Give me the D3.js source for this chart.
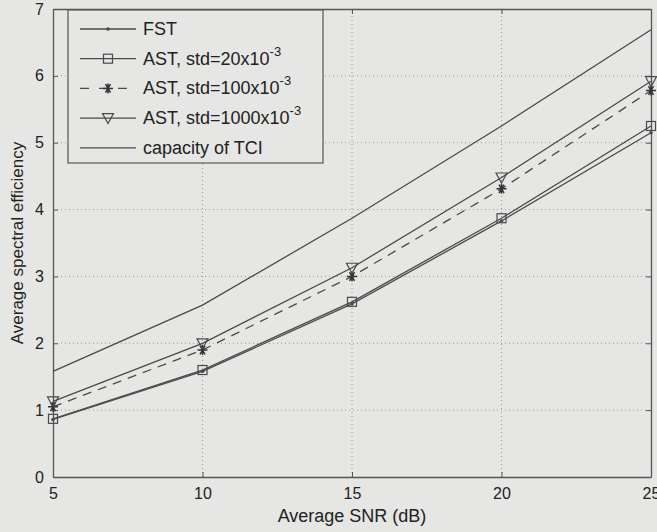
<!DOCTYPE html>
<html lang="en">
  <head>
    <meta charset="utf-8" />
    <title>Average spectral efficiency vs SNR</title>
    <script src="https://d3js.org/d3.v7.min.js"></script>
    <style type="text/css">
      body {
        margin: 0;
        background-color: #e6e6e4;
      }
      text {
        font-family: "Liberation Sans", Arial, sans-serif;
        fill: #222;
      }
    </style>
  </head>
  <body>
    <script type="text/javascript">
      //Data
      var snr = [5, 10, 15, 20, 25];
      var fst = [0.86, 1.58, 2.59, 3.83, 5.15];
      var ast20 = [0.87, 1.6, 2.62, 3.87, 5.25];
      var ast100 = [1.05, 1.9, 3.0, 4.31, 5.78];
      var ast1000 = [1.13, 2.0, 3.13, 4.48, 5.92];
      var capTCI = [1.58, 2.57, 3.87, 5.25, 6.69];
      var xTicks = [5, 10, 15, 20, 25];
      var yTicks = [0, 1, 2, 3, 4, 5, 6, 7];

      var w = 657;
      var h = 532;
      var margin = { top: 9, right: 6, bottom: 55, left: 53 };

      var xScale = d3
        .scaleLinear()
        .domain([5, 25])
        .range([margin.left, w - margin.right]);
      var yScale = d3
        .scaleLinear()
        .domain([0, 7])
        .range([h - margin.bottom, margin.top]);

      var svg = d3
        .select("body")
        .append("svg")
        .attr("width", w)
        .attr("height", h);

      var lineCol = "#4a4a4a";

      //Grid
      svg
        .selectAll("line.gx")
        .data(xTicks.slice(1, -1))
        .enter()
        .append("line")
        .attr("x1", function (d) { return xScale(d); })
        .attr("x2", function (d) { return xScale(d); })
        .attr("y1", yScale(0))
        .attr("y2", yScale(7))
        .attr("stroke", "#9a9a9a")
        .attr("stroke-width", 1)
        .attr("stroke-dasharray", "1,3");
      svg
        .selectAll("line.gy")
        .data(yTicks.slice(1, -1))
        .enter()
        .append("line")
        .attr("y1", function (d) { return yScale(d); })
        .attr("y2", function (d) { return yScale(d); })
        .attr("x1", xScale(5))
        .attr("x2", xScale(25))
        .attr("stroke", "#9a9a9a")
        .attr("stroke-width", 1)
        .attr("stroke-dasharray", "1,3");

      //Axes (ticks inward on all four sides)
      svg
        .append("g")
        .attr("transform", "translate(0," + yScale(0) + ")")
        .call(d3.axisBottom(xScale).tickValues(xTicks).tickFormat(d3.format("d")).tickSizeInner(-5).tickSizeOuter(0).tickPadding(11));
      svg
        .append("g")
        .attr("transform", "translate(" + xScale(5) + ",0)")
        .call(d3.axisLeft(yScale).tickValues(yTicks).tickFormat(d3.format("d")).tickSizeInner(-5).tickSizeOuter(0).tickPadding(9));
      svg
        .append("g")
        .attr("transform", "translate(0," + yScale(7) + ")")
        .call(d3.axisTop(xScale).tickValues(xTicks).tickSizeInner(-5).tickSizeOuter(0).tickFormat(""));
      svg
        .append("g")
        .attr("transform", "translate(" + xScale(25) + ",0)")
        .call(d3.axisRight(yScale).tickValues(yTicks).tickSizeInner(-5).tickSizeOuter(0).tickFormat(""));
      svg.selectAll(".domain").attr("stroke", "#555").attr("stroke-width", 1.3);
      svg.selectAll(".tick line").attr("stroke", "#555");
      svg.selectAll(".tick text").style("font-size", "16px").attr("fill", "#222");

      //Axis labels
      svg
        .append("text")
        .attr("x", (xScale(5) + xScale(25)) / 2)
        .attr("y", 522)
        .attr("text-anchor", "middle")
        .style("font-size", "18px")
        .text("Average SNR (dB)");
      svg
        .append("text")
        .attr("transform", "translate(23," + (yScale(0) + yScale(7)) / 2 + ") rotate(-90)")
        .attr("text-anchor", "middle")
        .style("font-size", "17px")
        .text("Average spectral efficiency");

      //Series
      var series = [
        { name: "FST", vals: fst, dash: null, marker: "dot" },
        { name: "AST, std=20x10", vals: ast20, dash: null, marker: "square" },
        { name: "AST, std=100x10", vals: ast100, dash: "9,7", marker: "star" },
        { name: "AST, std=1000x10", vals: ast1000, dash: null, marker: "tri" },
        { name: "capacity of TCI", vals: capTCI, dash: null, marker: null },
      ];

      var line = d3
        .line()
        .x(function (d, i) { return xScale(snr[i]); })
        .y(function (d) { return yScale(d); });

      function drawMarker(g, type, x, y) {
        if (type === "dot") {
          g.append("circle").attr("cx", x).attr("cy", y).attr("r", 1.8).attr("fill", lineCol);
        } else if (type === "square") {
          g.append("rect")
            .attr("x", x - 4.5).attr("y", y - 4.5)
            .attr("width", 9).attr("height", 9)
            .attr("fill", "none").attr("stroke", lineCol).attr("stroke-width", 1.2);
        } else if (type === "tri") {
          g.append("path")
            .attr("d", "M" + (x - 5.5) + "," + (y - 4.5) + "L" + (x + 5.5) + "," + (y - 4.5) + "L" + x + "," + (y + 5.5) + "Z")
            .attr("fill", "none").attr("stroke", lineCol).attr("stroke-width", 1.2);
        } else if (type === "star") {
          var r = 5;
          var p = "M" + (x - r) + "," + y + "L" + (x + r) + "," + y;
          [60, 120].forEach(function (a) {
            var dx = r * Math.cos((a * Math.PI) / 180);
            var dy = r * Math.sin((a * Math.PI) / 180);
            p += "M" + (x - dx) + "," + (y - dy) + "L" + (x + dx) + "," + (y + dy);
          });
          p += "M" + x + "," + (y - r) + "L" + x + "," + (y + r);
          g.append("path").attr("d", p).attr("stroke", "#333").attr("stroke-width", 1.5);
        }
      }

      series.forEach(function (s) {
        svg
          .append("path")
          .datum(s.vals)
          .attr("d", line)
          .attr("fill", "none")
          .attr("stroke", lineCol)
          .attr("stroke-width", 1.3)
          .attr("stroke-dasharray", s.dash);
        if (s.marker) {
          var g = svg.append("g");
          s.vals.forEach(function (v, i) {
            drawMarker(g, s.marker, xScale(snr[i]), yScale(v));
          });
        }
      });

      //Legend
      var lg = svg.append("g").attr("transform", "translate(68,10)");
      lg.append("rect")
        .attr("width", 255)
        .attr("height", 153)
        .attr("fill", "#e6e6e4")
        .attr("stroke", "#555")
        .attr("stroke-width", 1.2);
      series.forEach(function (s, i) {
        var yy = 19 + i * 29.7;
        lg.append("line")
          .attr("x1", 12).attr("x2", 68)
          .attr("y1", yy).attr("y2", yy)
          .attr("stroke", lineCol)
          .attr("stroke-width", 1.3)
          .attr("stroke-dasharray", s.dash ? "9,10" : null);
        if (s.marker) drawMarker(lg, s.marker, 40, yy);
        var t = lg.append("text")
          .attr("x", 75)
          .attr("y", yy + 6)
          .style("font-size", "18px")
          .text(s.name);
        if (s.name.indexOf("std") >= 0) {
          t.append("tspan").attr("dy", -9).style("font-size", "13px").text("-3");
        }
      });
    </script>
  </body>
</html>
